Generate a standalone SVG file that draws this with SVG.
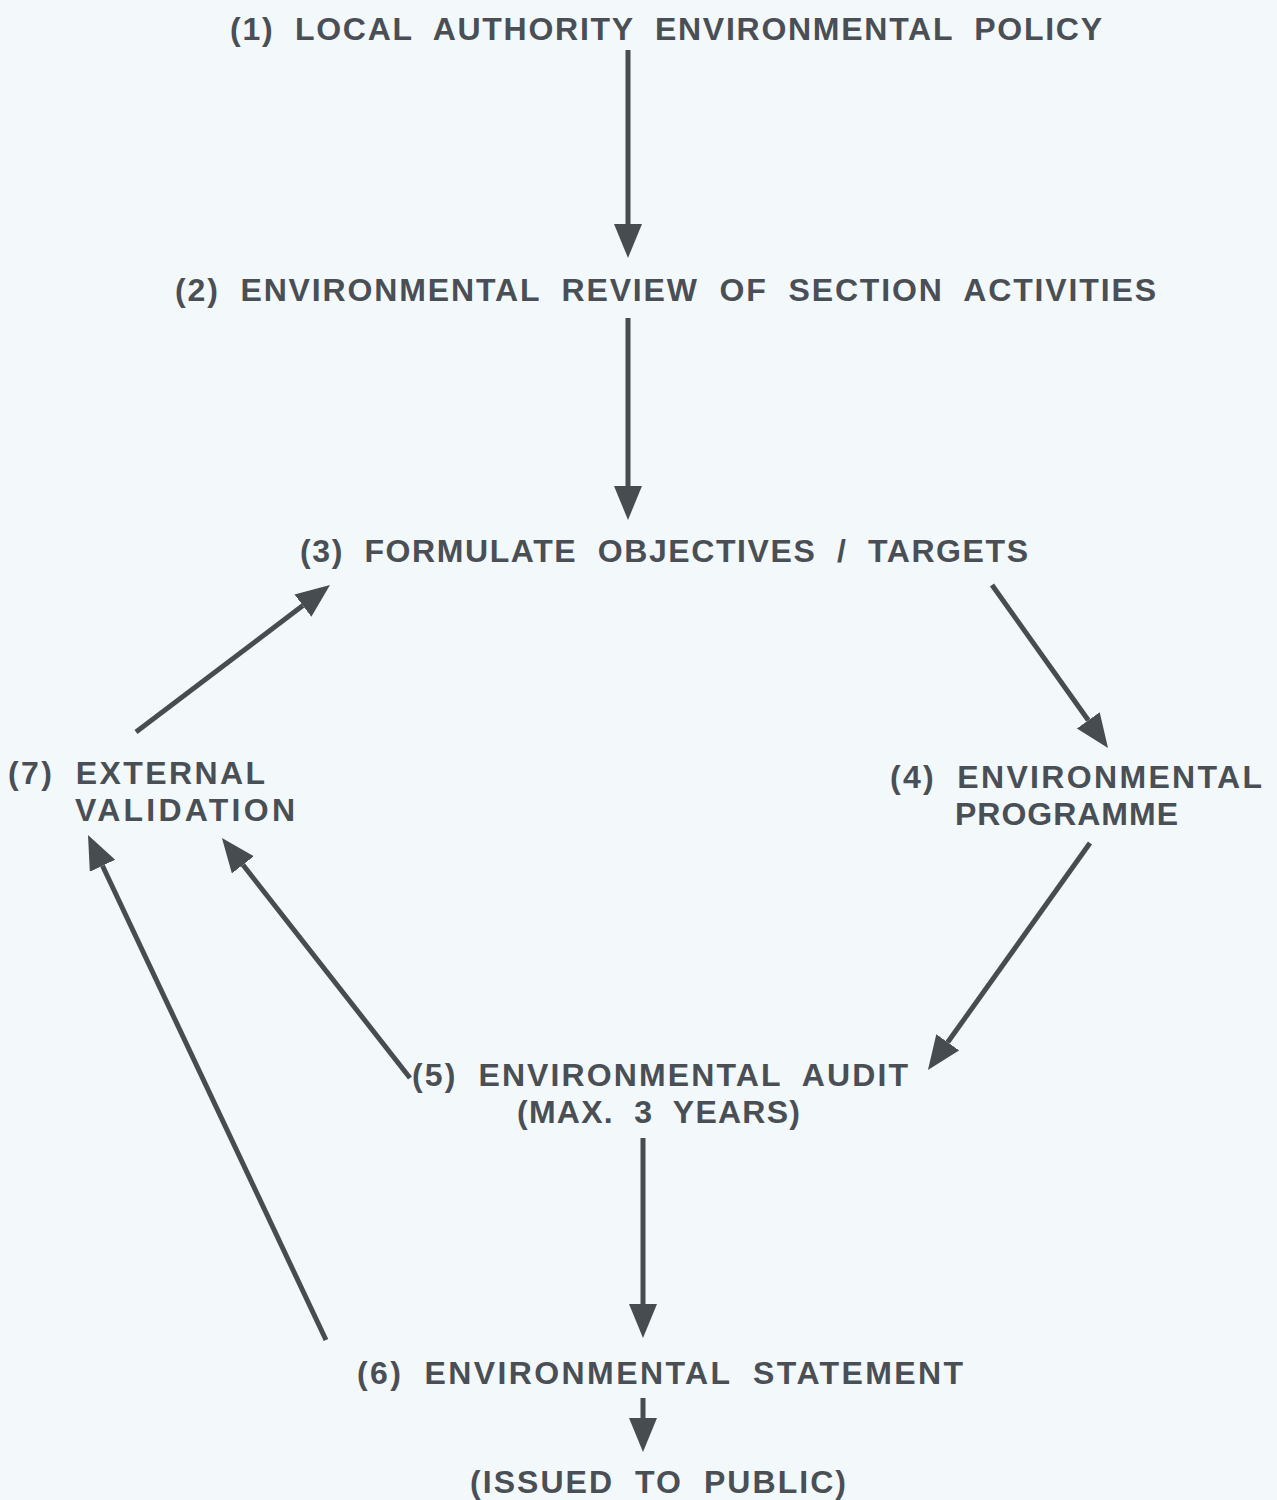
<svg xmlns="http://www.w3.org/2000/svg" width="1277" height="1500" viewBox="0 0 1277 1500">
<defs>
<marker id="ah" markerUnits="userSpaceOnUse" markerWidth="40" markerHeight="32" refX="0" refY="14" orient="auto" viewBox="0 0 40 32">
<path d="M0,0 L34,14 L0,28 z" fill="#474c51"/>
</marker>
<style>
.t{font-family:"Liberation Sans",Arial,sans-serif;font-weight:bold;font-size:32px;fill:#4a4f55;word-spacing:10px}
.c line{stroke:#474c51;stroke-width:5;marker-end:url(#ah)}
</style>
</defs>
<rect width="1277" height="1500" fill="#f3f8fb"/>
<g class="c" id="connectors">
<line x1="628" y1="50" x2="628" y2="224"/>
<line x1="628" y1="318" x2="628" y2="486"/>
<line x1="992" y1="585" x2="1088.3" y2="720.3"/>
<line x1="1090" y1="843" x2="947.7" y2="1042.3"/>
<line x1="410" y1="1078" x2="242.9" y2="864.8"/>
<line x1="136" y1="732" x2="302.9" y2="605.6"/>
<line x1="326" y1="1340" x2="102.5" y2="865.8"/>
<line x1="643" y1="1138" x2="643" y2="1304"/>
<line x1="643" y1="1398" x2="643" y2="1418"/>
</g>
<g id="n1"><text class="t" x="230" y="40" textLength="872" lengthAdjust="spacing">(1) LOCAL AUTHORITY ENVIRONMENTAL POLICY</text></g>
<g id="n2"><text class="t" x="175" y="301" textLength="981" lengthAdjust="spacing">(2) ENVIRONMENTAL REVIEW OF SECTION ACTIVITIES</text></g>
<g id="n3"><text class="t" x="300" y="562" textLength="728" lengthAdjust="spacing">(3) FORMULATE OBJECTIVES / TARGETS</text></g>
<g id="n4"><text class="t" x="890" y="788" textLength="372" lengthAdjust="spacing">(4) ENVIRONMENTAL</text><text class="t" x="955" y="825" textLength="223" lengthAdjust="spacing">PROGRAMME</text></g>
<g id="n5"><text class="t" x="412" y="1086" textLength="496" lengthAdjust="spacing">(5) ENVIRONMENTAL AUDIT</text><text class="t" x="517" y="1123" textLength="283" lengthAdjust="spacing">(MAX. 3 YEARS)</text></g>
<g id="n6"><text class="t" x="357" y="1384" textLength="606" lengthAdjust="spacing">(6) ENVIRONMENTAL STATEMENT</text></g>
<g id="n6b"><text class="t" x="470" y="1493" textLength="376" lengthAdjust="spacing">(ISSUED TO PUBLIC)</text></g>
<g id="n7"><text class="t" x="8" y="784" textLength="257" lengthAdjust="spacing">(7) EXTERNAL</text><text class="t" x="75" y="821" textLength="220" lengthAdjust="spacing">VALIDATION</text></g>
</svg>
